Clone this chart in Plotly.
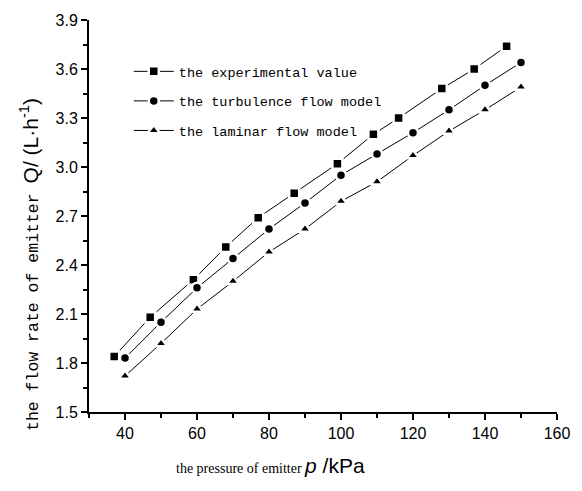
import plotly.graph_objects as go

# Data
exp_p = [37, 47, 59, 68, 77, 87, 99, 109, 116, 128, 137, 146]
exp_q = [1.84, 2.08, 2.31, 2.51, 2.69, 2.84, 3.02, 3.20, 3.30, 3.48, 3.60, 3.74]

turb_p = [40, 50, 60, 70, 80, 90, 100, 110, 120, 130, 140, 150]
turb_q = [1.83, 2.05, 2.26, 2.44, 2.62, 2.78, 2.95, 3.08, 3.21, 3.35, 3.50, 3.64]

lam_p = [40, 50, 60, 70, 80, 90, 100, 110, 120, 130, 140, 150]
lam_q = [1.72, 1.92, 2.13, 2.30, 2.48, 2.62, 2.79, 2.91, 3.07, 3.22, 3.35, 3.49]

names = ["the experimental value", "the turbulence flow model", "the laminar flow model"]
symbols = ["square", "circle", "triangle-up"]

x_ticks = [40, 60, 80, 100, 120, 140, 160]
y_ticks = [1.5, 1.8, 2.1, 2.4, 2.7, 3.0, 3.3, 3.6, 3.9]

fig = go.Figure()
for i, (xs, ys) in enumerate([(exp_p, exp_q), (turb_p, turb_q), (lam_p, lam_q)]):
    fig.add_trace(go.Scatter(
        x=xs, y=ys, mode="lines+markers", name=names[i],
        legendgroup=f"g{i}",
        line=dict(color="black", width=1),
        marker=dict(symbol=symbols[i], size=10 if i != 2 else 11, color="black",
                    line=dict(color="white", width=2.5)),
    ))

axis_common = dict(
    showgrid=False, zeroline=False, showline=True, linecolor="black", linewidth=2,
    ticks="outside", ticklen=6, tickwidth=2, tickcolor="black",
    tickfont=dict(family="Liberation Sans, Arial", size=16, color="black"),
    mirror=False,
)

fig.update_layout(
    width=582, height=491,
    margin=dict(l=89, r=24, t=15, b=79),
    plot_bgcolor="white", paper_bgcolor="white",
    xaxis=dict(range=[30, 160], tickvals=x_ticks, ticktext=[str(v) for v in x_ticks],
               minor=dict(dtick=10, tick0=30, ticks="outside", ticklen=4, tickwidth=2, tickcolor="black"),
               **axis_common),
    yaxis=dict(range=[1.5, 3.9], tickvals=y_ticks, ticktext=[f"{v:.1f}" for v in y_ticks],
               minor=dict(dtick=0.15, tick0=1.5, ticks="outside", ticklen=4, tickwidth=2, tickcolor="black"),
               **axis_common),
    showlegend=True,
    legend=dict(x=0.085, y=0.908, xanchor="left", yanchor="top",
                bgcolor="rgba(0,0,0,0)", borderwidth=0,
                font=dict(family="Liberation Mono, Courier New", size=13.5, color="black"),
                tracegroupgap=9, traceorder="grouped", itemwidth=40),
    annotations=[
        dict(xref="paper", yref="paper", x=(271 - 89) / 469, y=-(466 - 412) / 397,
             xanchor="center", yanchor="middle", showarrow=False,
             text="<span style='font-family:Liberation Serif;font-size:14px'>the pressure of emitter </span>"
                  "<span style='font-family:Liberation Sans, Arial;font-size:21px'><i>p</i> /kPa</span>",
             font=dict(color="black", size=14, family="Liberation Serif")),
        dict(xref="paper", yref="paper", x=-(89 - 30) / 469, y=(412 - 263) / 397,
             xanchor="center", yanchor="middle", showarrow=False, textangle=-90,
             text="<span style='font-family:Liberation Mono;font-size:16.5px'>the flow rate of emitter </span>"
                  "<span style='font-family:Liberation Sans, Arial;font-size:21px'>Q/ (L·h<sup>-1</sup>)</span>",
             font=dict(color="black", size=16, family="Liberation Mono")),
    ],
)

fig.write_html("out.html")
